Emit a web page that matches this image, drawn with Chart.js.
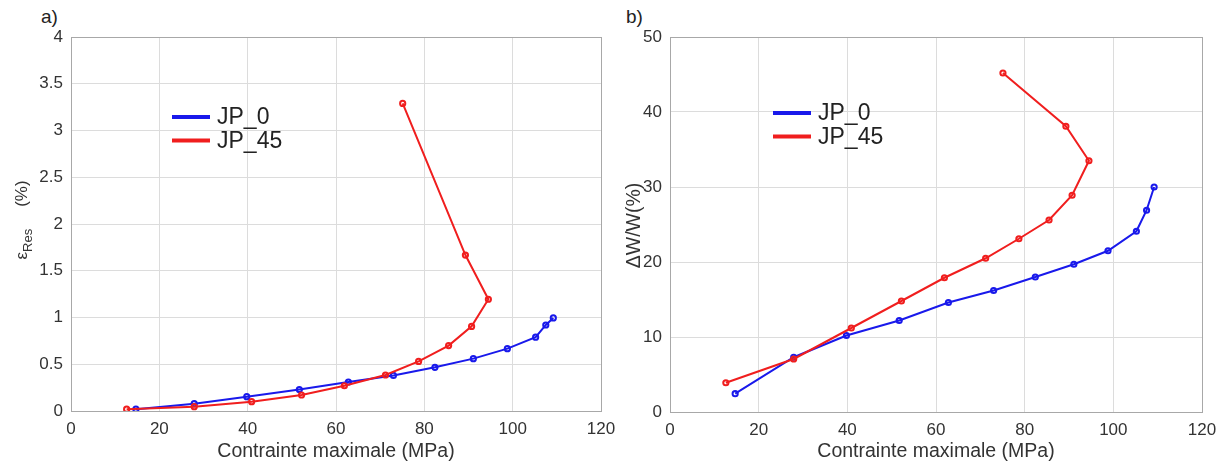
<!DOCTYPE html>
<html>
<head>
<meta charset="utf-8">
<script src="https://cdn.jsdelivr.net/npm/chart.js@4.4.1/dist/chart.umd.min.js"></script>
<style>
  body { margin: 0; background: #fff; width: 1227px; height: 466px; overflow: hidden; position: relative; }
  canvas { position: absolute; top: 0; }
  .panel { position: absolute; top: 6px; font: 19px "Liberation Sans", Arial, sans-serif; color: #222; }
</style>
</head>
<body>
<span class="panel" style="left:41px">a)</span>
<span class="panel" style="left:626px">b)</span>
<canvas id="chartA" width="625" height="466" style="left:0"></canvas>
<canvas id="chartB" width="627" height="466" style="left:600px"></canvas>
<script>
// series names
const seriesNames = ['JP_0', 'JP_45'];

// max stress (MPa) for each loading step
const stressJP0 = [14.7, 27.9, 39.8, 51.7, 62.8, 73.0, 82.4, 91.1, 98.8, 105.2, 107.5, 109.2];
const stressJP45 = [12.6, 27.9, 40.9, 52.2, 61.9, 71.2, 78.7, 85.5, 90.7, 94.5, 89.3, 75.1];

// a) residual strain (%)
const epsJP0 = [0.02, 0.078, 0.153, 0.23, 0.31, 0.38, 0.467, 0.56, 0.667, 0.79, 0.92, 0.995];
const epsJP45 = [0.02, 0.046, 0.10, 0.171, 0.27, 0.385, 0.53, 0.70, 0.905, 1.195, 1.668, 3.29];

// b) dissipated energy ratio (%)
const dwJP0 = [2.45, 7.3, 10.2, 12.2, 14.6, 16.2, 18.0, 19.7, 21.5, 24.1, 26.9, 30.0];
const dwJP45 = [3.9, 7.07, 11.2, 14.8, 17.9, 20.5, 23.1, 25.6, 28.9, 33.5, 38.1, 45.2];

// tick values
const xTickValues = [0, 20, 40, 60, 80, 100, 120];
const yTickValuesA = [0, 0.5, 1, 1.5, 2, 2.5, 3, 3.5, 4];
const yTickValuesB = [0, 10, 20, 30, 40, 50];

const FONT = '"Liberation Sans", Arial, sans-serif';
const TEXT = '#333';
const BLUE = 'rgb(25,25,235)';
const RED = 'rgb(240,30,30)';

function pts (xs, ys) {
  return xs.map((x, i) => ({x: x, y: ys[i]}));
}

function series (label, color, xs, ys, order) {
  return {
    label: label,
    data: pts(xs, ys),
    showLine: true,
    borderColor: color,
    backgroundColor: color,
    borderWidth: 2,
    pointRadius: 2.6,
    pointBorderWidth: 2,
    pointBackgroundColor: 'rgba(255,255,255,0)',
    pointBorderColor: color,
    order: order
  };
}

// draws box, legend and the y title
const decorations = {
  id: 'decorations',
  afterDraw (chart, args, opts) {
    const ctx = chart.ctx;
    const a = chart.chartArea;
    ctx.save();
    ctx.strokeStyle = '#a8a8a8';
    ctx.lineWidth = 1;
    ctx.strokeRect(a.left + 0.5, a.top + 0.5, a.right - a.left, a.bottom - a.top);

    // legend
    ctx.font = '23px ' + FONT;
    ctx.textBaseline = 'middle';
    chart.data.datasets.forEach((ds, i) => {
      const y = a.top + opts.legendY + i * 23.5;
      const x = a.left + opts.legendX;
      ctx.strokeStyle = ds.borderColor;
      ctx.lineWidth = 4;
      ctx.beginPath();
      ctx.moveTo(x, y);
      ctx.lineTo(x + 38, y);
      ctx.stroke();
      ctx.fillStyle = '#222';
      ctx.fillText(ds.label, x + 45, y + 1);
    });

    // y title, rotated
    ctx.translate(opts.titleX, (a.top + a.bottom) / 2 + opts.titleShift);
    ctx.rotate(-Math.PI / 2);
    ctx.fillStyle = TEXT;
    ctx.textBaseline = 'alphabetic';
    const parts = opts.title;
    const fontOf = p => (p.sub ? '13px ' : opts.titleSize + 'px ') + FONT;
    let w = 0;
    parts.forEach(p => {
      ctx.font = fontOf(p);
      w += ctx.measureText(p.t).width + (p.gap || 0);
    });
    let x = -w / 2;
    parts.forEach(p => {
      ctx.font = fontOf(p);
      x += p.gap || 0;
      ctx.fillText(p.t, x, p.sub ? 5 : 0);
      x += ctx.measureText(p.t).width;
    });
    ctx.restore();
  }
};

function makeOptions (yTicks, yMax, yWidth, xHeight, rightPad, deco) {
  return {
    responsive: false,
    animation: false,
    layout: {padding: {top: 37, right: rightPad, bottom: 0, left: 0}},
    plugins: {
      legend: {display: false},
      tooltip: {enabled: false},
      decorations: deco
    },
    scales: {
      x: {
        type: 'linear',
        min: 0,
        max: 120,
        afterBuildTicks: s => { s.ticks = xTickValues.map(v => ({value: v})); },
        afterFit: s => { s.height = xHeight; s.paddingLeft = 0; s.paddingRight = 0; },
        grid: {color: '#dcdcdc', drawTicks: false},
        border: {display: false},
        ticks: {font: {family: FONT, size: 17}, color: TEXT, padding: 8, callback: v => String(v)},
        title: {display: true, text: 'Contrainte maximale (MPa)', font: {family: FONT, size: 19.5}, color: TEXT, padding: {top: 0, bottom: 3}}
      },
      y: {
        type: 'linear',
        min: 0,
        max: yMax,
        afterBuildTicks: s => { s.ticks = yTicks.map(v => ({value: v})); },
        afterFit: s => { s.width = yWidth; s.paddingTop = 0; s.paddingBottom = 0; },
        grid: {color: '#dcdcdc', drawTicks: false},
        border: {display: false},
        ticks: {font: {family: FONT, size: 17}, color: TEXT, padding: 8, callback: v => String(v)}
      }
    }
  };
}

new Chart(document.getElementById('chartA'), {
  type: 'scatter',
  data: {
    datasets: [
      series(seriesNames[0], BLUE, stressJP0, epsJP0, 1),
      series(seriesNames[1], RED, stressJP45, epsJP45, 0)
    ]
  },
  options: makeOptions(yTickValuesA, 4, 71, 55, 24, {
    legendX: 101, legendY: 80, titleX: 27, titleShift: -4, titleSize: 17,
    title: [{t: 'ε'}, {t: 'Res', sub: true}, {t: '(%)', gap: 22}]
  }),
  plugins: [decorations]
});

new Chart(document.getElementById('chartB'), {
  type: 'scatter',
  data: {
    datasets: [
      series(seriesNames[0], BLUE, stressJP0, dwJP0, 1),
      series(seriesNames[1], RED, stressJP45, dwJP45, 0)
    ]
  },
  options: makeOptions(yTickValuesB, 50, 70, 54, 25, {
    legendX: 103, legendY: 76, titleX: 40, titleShift: 1, titleSize: 19.5,
    title: [{t: 'ΔW/W(%)'}]
  }),
  plugins: [decorations]
});
</script>
</body>
</html>
